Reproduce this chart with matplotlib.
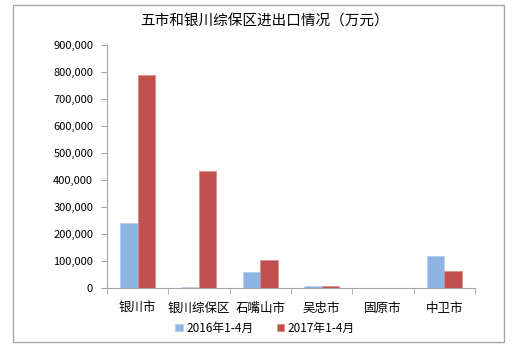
import matplotlib
matplotlib.use("Agg")
import matplotlib.pyplot as plt
import numpy as np
from matplotlib.ticker import FuncFormatter, FixedLocator
from matplotlib.patches import Rectangle

plt.rcParams['font.family'] = ['Noto Sans CJK SC', 'DejaVu Sans']

categories = ["银川市", "银川综保区", "石嘴山市", "吴忠市", "固原市", "中卫市"]
series_names = ["2016年1-4月", "2017年1-4月"]
v2016 = [242000, 5000, 59000, 9000, 0, 120000]
v2017 = [790000, 434000, 104000, 7000, 0, 62000]
title = "五市和银川综保区进出口情况（万元）"

fig = plt.figure(figsize=(5.13, 3.54), dpi=100)
fig.patches.append(Rectangle((13/513, 1-342/354), (504-13)/513, (342-5)/354,
                             transform=fig.transFigure, fill=False,
                             edgecolor='#a6a6a6', linewidth=1.0))
ax = fig.add_axes([107/513, 1-288/354, (475-107)/513, (288-45)/354])

x = np.arange(len(categories))
w = 0.285
ax.bar(x - w/2, v2016, w, color='#8db4e2', edgecolor='#b8d0ee', linewidth=0.5, label=series_names[0])
ax.bar(x + w/2, v2017, w, color='#c0504d', edgecolor='#d98b89', linewidth=0.5, label=series_names[1])

ax.set_xlim(-0.5, len(categories) - 0.5)
ax.set_ylim(0, 900000)
ax.yaxis.set_major_locator(FixedLocator(np.arange(0, 900001, 100000)))
ax.yaxis.set_major_formatter(FuncFormatter(lambda v, p: f"{int(v):,}"))
ax.set_xticks(x)
ax.set_xticklabels(categories)
ax.xaxis.set_minor_locator(FixedLocator(np.arange(-0.5, len(categories), 1.0)))
ax.tick_params(axis='x', which='major', length=0, pad=10, labelsize=9)
ax.tick_params(axis='x', which='minor', length=4, color='#a6a6a6', direction='out')
ax.tick_params(axis='y', length=4, color='#a6a6a6', direction='out', labelsize=8, pad=6)

for s in ['top', 'right']:
    ax.spines[s].set_visible(False)
for s in ['left', 'bottom']:
    ax.spines[s].set_color('#a6a6a6')
    ax.spines[s].set_linewidth(0.8)

fig.text(265/513, 1-22/354, title, ha='center', va='center', fontsize=10.5)

ax.legend(loc='center', bbox_to_anchor=(265/513, 1-328/354), bbox_transform=fig.transFigure,
          ncol=2, frameon=False, fontsize=8.5, handlelength=0.6, handleheight=0.6,
          columnspacing=2.0, handletextpad=0.3)

fig.savefig("out.png", dpi=100)
